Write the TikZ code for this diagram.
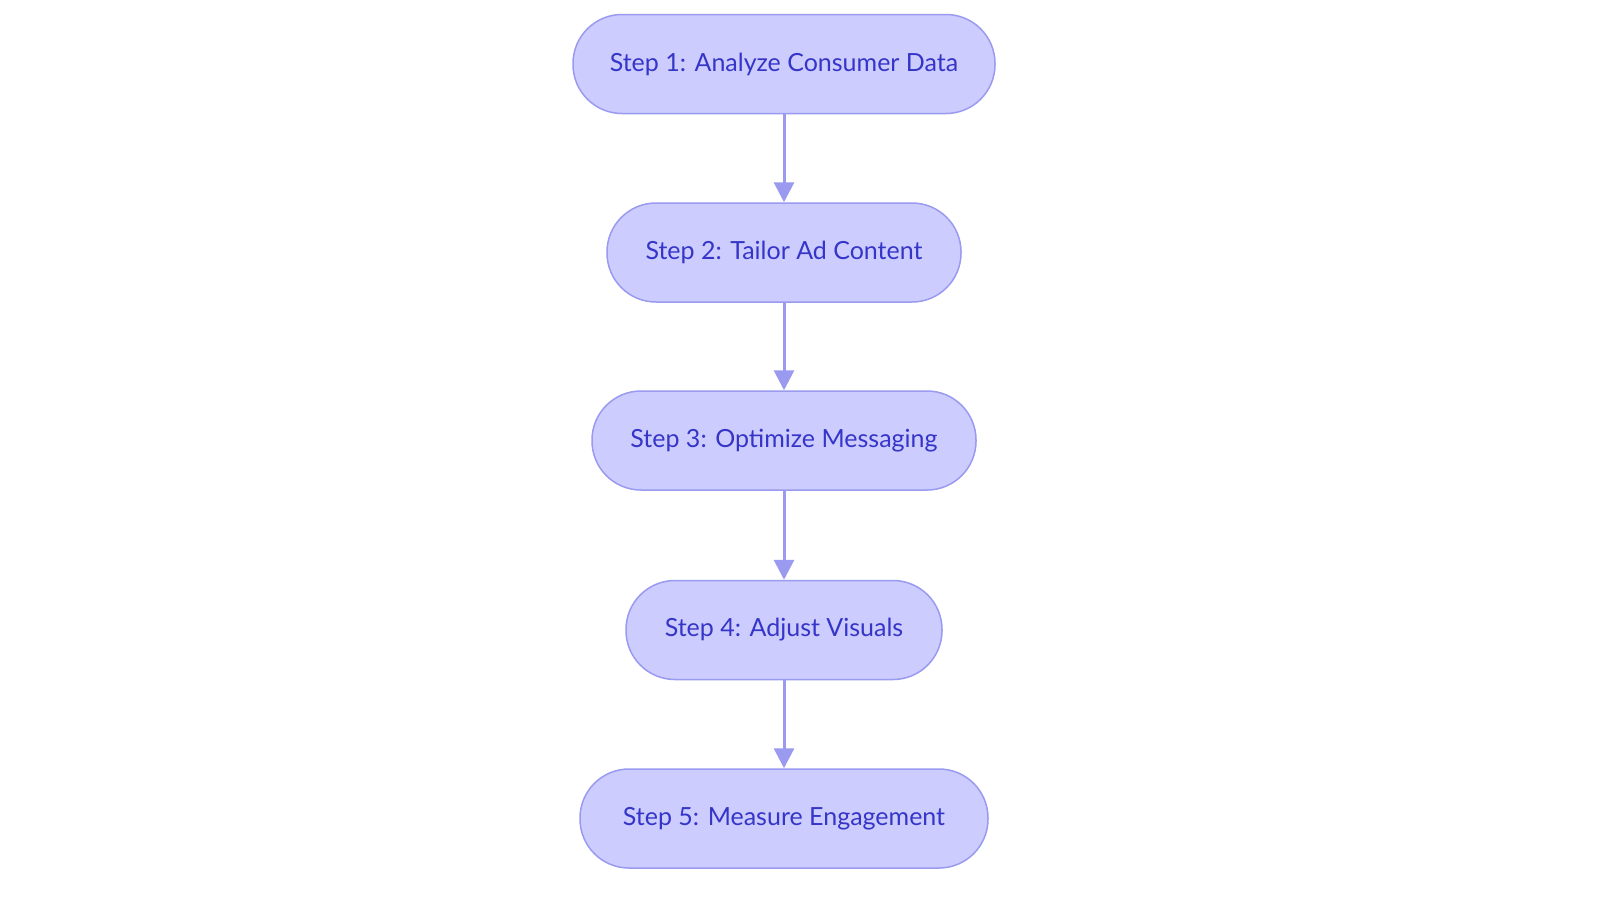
\documentclass[tikz,border=0pt]{standalone}
\usepackage{fontspec}
\setmainfont{Lato}
\usetikzlibrary{arrows.meta}
\definecolor{nfill}{HTML}{CCCCFF}
\definecolor{nline}{HTML}{9A9AF0}
\definecolor{ntext}{HTML}{3535C8}
\begin{document}
\begin{tikzpicture}[x=1pt,y=-1pt,
  stepbox/.style={draw=nline,line width=1.5pt,fill=nfill,text=ntext,rounded corners=49pt,minimum height=99pt,inner sep=0pt,font=\fontsize{25}{30}\selectfont},
  arr/.style={draw=nline,line width=3pt,-{Triangle[length=20pt,width=20pt]}}]
\useasboundingbox (0,0) rectangle (1600,903);
\node[stepbox,minimum width=422pt] (s1) at (784,64) {Step 1: Analyze Consumer Data};
\node[stepbox,minimum width=354pt] (s2) at (784,252.5) {Step 2: Tailor Ad Content};
\node[stepbox,minimum width=384pt] (s3) at (784,440.5) {Step 3: Optimize Messaging};
\node[stepbox,minimum width=316pt] (s4) at (784,630) {Step 4: Adjust Visuals};
\node[stepbox,minimum width=408pt] (s5) at (784,818.5) {Step 5: Measure Engagement};
\draw[arr] (s1) -- (s2);
\draw[arr] (s2) -- (s3);
\draw[arr] (s3) -- (s4);
\draw[arr] (s4) -- (s5);
\end{tikzpicture}
\end{document}
